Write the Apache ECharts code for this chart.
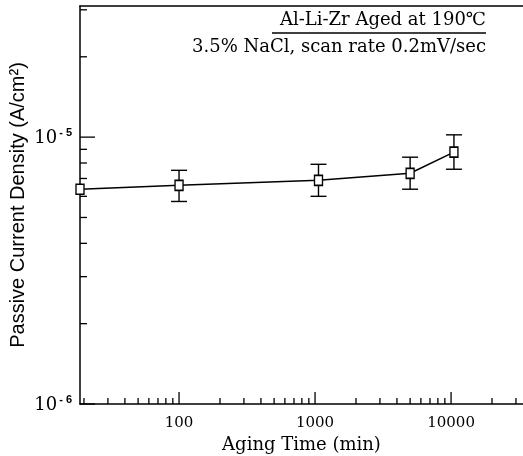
<!DOCTYPE html>
<html><head><meta charset="utf-8">
<script src="https://cdn.jsdelivr.net/npm/echarts@6/dist/echarts.min.js"></script>
<style>html,body{margin:0;background:#fff}#c{width:523px;height:456px}</style>
</head><body><div id="c"></div>
<script>
// Passive current density of Al-Li-Zr versus aging time at 190 °C
const agingTime = [18.7, 100, 1060, 5000, 10500];           // min
const currentDensity = [6.38e-6, 6.60e-6, 6.89e-6, 7.32e-6, 8.79e-6]; // A/cm²
const errLow  = [null, 5.74e-6, 6.00e-6, 6.38e-6, 7.58e-6];
const errHigh = [null, 7.51e-6, 7.91e-6, 8.41e-6, 1.02e-5];

const xRange = [18.7, 33800];
const yRange = [1e-6, 3.1e-5];

const xMajorTicks = [100, 1000, 10000];
const xMinorTicks = [20, 30, 40, 50, 60, 70, 80, 90,
  200, 300, 400, 500, 600, 700, 800, 900,
  2000, 3000, 4000, 5000, 6000, 7000, 8000, 9000, 20000, 30000];
const yMajorTicks = [1e-6, 1e-5];
const yMinorTicks = [2e-6, 3e-6, 4e-6, 5e-6, 6e-6, 7e-6, 8e-6, 9e-6, 2e-5, 3e-5];

const SERIF = '"DejaVu Serif", "Liberation Serif", serif';
const SANS = '"Liberation Sans", Arial, sans-serif';

function isPow10(v) {
  const l = Math.log10(v);
  return Math.abs(l - Math.round(l)) < 1e-6;
}

const chart = echarts.init(document.getElementById('c'), null, {renderer: 'canvas'});

function tickItem(isX, majorSet, majorLen, minorLen) {
  return function (params, api) {
    const v = api.value(0);
    const len = majorSet.includes(v) ? majorLen : minorLen;
    if (isX) {
      const p = api.coord([v, yRange[0]]);
      return {type: 'line', shape: {x1: p[0], y1: p[1], x2: p[0], y2: p[1] - len},
        style: {stroke: '#000', lineWidth: 1.3}};
    }
    const p = api.coord([xRange[0], v]);
    return {type: 'line', shape: {x1: p[0], y1: p[1], x2: p[0] + len, y2: p[1]},
      style: {stroke: '#000', lineWidth: 1.3}};
  };
}

const errData = agingTime.map((t, i) => [t, errLow[i], errHigh[i]]).filter(d => d[1] != null);

chart.setOption({
  animation: false,
  backgroundColor: '#fff',
  grid: {left: 80, right: 0, top: 6, bottom: 52, containLabel: false, outerBoundsMode: 'none'},
  xAxis: [{
    type: 'log', logBase: 10, min: xRange[0], max: xRange[1],
    axisLine: {show: true, lineStyle: {color: '#000', width: 1.5}},
    axisTick: {show: false}, splitLine: {show: false}, minorTick: {show: false},
    axisLabel: {
      margin: 12, color: '#000', fontFamily: SERIF, fontSize: 15,
      showMinLabel: false, showMaxLabel: false,
      formatter: v => (isPow10(v) && xMajorTicks.includes(Math.round(v))) ? String(Math.round(v)) : ''
    },
    name: 'Aging Time (min)', nameLocation: 'middle', nameGap: 32, nameMoveOverlap: false,
    nameTextStyle: {color: '#000', fontFamily: SERIF, fontSize: 18}
  }, {
    type: 'log', logBase: 10, min: xRange[0], max: xRange[1], position: 'top',
    axisLine: {show: true, lineStyle: {color: '#000', width: 1.5}},
    axisTick: {show: false}, axisLabel: {show: false}, splitLine: {show: false}
  }],
  yAxis: {
    type: 'log', logBase: 10, min: yRange[0], max: yRange[1],
    axisLine: {show: true, lineStyle: {color: '#000', width: 1.5}},
    axisTick: {show: false}, splitLine: {show: false},
    axisLabel: {
      margin: 8, color: '#000', showMinLabel: true, showMaxLabel: false,
      formatter: v => {
        if (!isPow10(v)) return '';
        const e = Math.round(Math.log10(v));
        return yMajorTicks.some(t => Math.abs(Math.log10(t) - e) < 1e-6) ? '{b|10}{s|- ' + (-e) + '}' : '';
      },
      rich: {
        b: {fontFamily: SERIF, fontSize: 18, color: '#000', verticalAlign: 'bottom'},
        s: {fontFamily: SANS, fontSize: 11, fontWeight: 'bold', color: '#000', verticalAlign: 'top', padding: [0, 0, 9, 2]}
      }
    },
    name: 'Passive Current Density (A/cm\u00B2)', nameLocation: 'middle', nameGap: 52, nameMoveOverlap: false,
    nameTextStyle: {color: '#000', fontFamily: SANS, fontSize: 20}
  },
  graphic: [
    {type: 'text', right: 37, top: 11,
      style: {text: 'Al-Li-Zr Aged at 190\u2103', font: '18px ' + SERIF, fill: '#000'}},
    {type: 'line', shape: {x1: 272, y1: 33, x2: 486, y2: 33}, style: {stroke: '#000', lineWidth: 1.5}},
    {type: 'text', right: 37, top: 38,
      style: {text: '3.5% NaCl, scan rate 0.2mV/sec', font: '18px ' + SERIF, fill: '#000'}}
  ],
  series: [
    {type: 'custom', xAxisIndex: 0, data: xMajorTicks.concat(xMinorTicks).map(v => [v]),
      renderItem: tickItem(true, xMajorTicks, 12, 6), silent: true, clip: false},
    {type: 'custom', xAxisIndex: 0, data: yMajorTicks.concat(yMinorTicks).map(v => [v]),
      renderItem: tickItem(false, yMajorTicks, 15, 7), silent: true, clip: false},
    {type: 'custom', xAxisIndex: 0, data: errData, silent: true, z: 2,
      renderItem: function (params, api) {
        const lo = api.coord([api.value(0), api.value(1)]);
        const hi = api.coord([api.value(0), api.value(2)]);
        const w = 8;
        const st = {stroke: '#000', lineWidth: 1.4};
        return {type: 'group', children: [
          {type: 'line', shape: {x1: lo[0], y1: lo[1], x2: hi[0], y2: hi[1]}, style: st},
          {type: 'line', shape: {x1: lo[0] - w, y1: lo[1], x2: lo[0] + w, y2: lo[1]}, style: st},
          {type: 'line', shape: {x1: hi[0] - w, y1: hi[1], x2: hi[0] + w, y2: hi[1]}, style: st}
        ]};
      }},
    {type: 'line', xAxisIndex: 0, z: 5, clip: false,
      data: agingTime.map((t, i) => [t, currentDensity[i]]),
      symbol: 'rect', symbolSize: [8, 10], showAllSymbol: true,
      lineStyle: {color: '#000', width: 1.5},
      itemStyle: {color: '#fff', borderColor: '#000', borderWidth: 1.5}}
  ]
});
</script>
</body></html>
